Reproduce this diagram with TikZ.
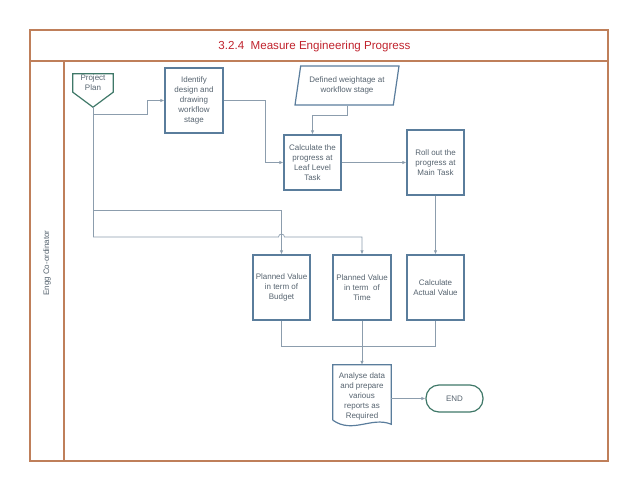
\documentclass[tikz,border=0pt]{standalone}
\usepackage{fontspec}
\setmainfont{Liberation Sans}
\usetikzlibrary{shapes.geometric,arrows.meta}

\definecolor{framec}{HTML}{BF7F5A}
\definecolor{titlec}{HTML}{C0232D}
\definecolor{boxc}{HTML}{5A7D9C}
\definecolor{txtc}{HTML}{56636F}
\definecolor{linec}{HTML}{8C9DAD}
\definecolor{termc}{HTML}{3F7868}

\begin{document}
\begin{tikzpicture}[x=1pt,y=-1pt]
	\tikzstyle{frame} = [ draw=framec, line width=1.4pt ];
	\tikzstyle{task} = [ draw=boxc, line width=1.2pt, rectangle, minimum width=57pt, minimum height=65pt, inner sep=0pt, align=center, text=txtc, font={\fontsize{8}{10}\selectfont} ];
	\tikzstyle{data} = [ draw=boxc, line width=1.2pt, trapezium, trapezium left angle=72, trapezium right angle=108, trapezium stretches body=true, minimum width=104pt, minimum height=39pt, inner sep=0pt, align=center, text=txtc, font={\fontsize{8}{10}\selectfont} ];
	\tikzstyle{plain} = [ inner sep=0pt, align=center, text=txtc, font={\fontsize{8}{10}\selectfont} ];
	\tikzstyle{line} = [ draw=linec, line width=0.7pt ];
	\tikzstyle{flow} = [ line, -{Latex[length=4pt,width=3.5pt]} ];

	\useasboundingbox (0,0) rectangle (638,490);

	\draw[frame] (30,30) rectangle (608,461);
	\draw[frame] (30,61) -- (608,61);
	\draw[frame] (64,61) -- (64,461);

	\node[text=titlec, font={\fontsize{11.6}{14}\selectfont}] (title) at (314.5,46) {3.2.4\ \ Measure Engineering Progress};
	\node[plain, rotate=90] (lane) at (47,263) {Engg Co-ordinator};

	\node[plain, minimum width=40pt, minimum height=18pt] (plan) at (93,83) {Project\\Plan};
	\draw[draw=termc, line width=1.2pt] (plan.north west) -- (plan.north east) -- (plan.south east) -- ([shift={(0,15)}]plan.south) -- (plan.south west) -- cycle;
	\coordinate (plantip) at ([shift={(0,15)}]plan.south);

	\node[task, minimum width=58pt] (identify) at (194,100.5) {Identify\\design and\\drawing\\workflow\\stage};
	\node[data] (weight) at (347,85.5) {Defined weightage at\\workflow stage};
	\node[task, minimum height=55pt] (calc) at (312.5,162.5) {Calculate the\\progress at\\Leaf Level\\Task};
	\node[task] (rollout) at (435.5,162.5) {Roll out the\\progress at\\Main Task};
	\node[task] (budget) at (281.5,287.5) {Planned Value\\in term of\\Budget};
	\node[task, minimum width=58pt] (time) at (362,287.5) {Planned Value\\in term\ \ of\\Time};
	\node[task] (actual) at (435.5,287.5) {Calculate\\Actual Value};

	\node[plain, minimum width=58pt, minimum height=63pt] (analyse) at (362,396.5) {Analyse data\\and prepare\\various\\reports as\\Required};
	\draw[draw=boxc, line width=1.2pt] ([shift={(0,-8)}]analyse.south west) -- (analyse.north west) -- (analyse.north east) -- ([shift={(0,-4)}]analyse.south east)
		.. controls ([shift={(-20,-12)}]analyse.south east) and ([shift={(20,6)}]analyse.south west) .. ([shift={(0,-8)}]analyse.south west);

	\node[plain, draw=termc, line width=1.2pt, rounded corners=13pt, minimum width=57pt, minimum height=27pt] (end) at (454.5,398.5) {END};

	\draw[flow] (plantip |- 0,114) -- (147,114) |- (identify.west);
	\draw[line] (plantip) -- (plantip |- 0,237);
	\draw[flow] (plantip |- 0,210) -| (budget.north);
	\draw[flow] (plantip |- 0,237) -- ([shift={(-3,0)}]budget.north |- 0,237) arc[start angle=180, end angle=360, radius=3] -| (time.north);
	\draw[flow] (identify.east) -- (265,100.5) |- (calc.west);
	\draw[flow] (weight.south) |- (calc.north |- 0,115) -- (calc.north);
	\draw[flow] (calc) -- (rollout);
	\draw[flow] (rollout) -- (actual);
	\draw[line] (budget.south) |- (actual.south |- 0,346) -- (actual.south);
	\draw[line] (time.south) -- (time.south |- 0,346);
	\draw[flow] (time.south |- 0,346) -- (analyse.north);
	\draw[flow] (analyse.east |- end) -- (end);
\end{tikzpicture}
\end{document}
